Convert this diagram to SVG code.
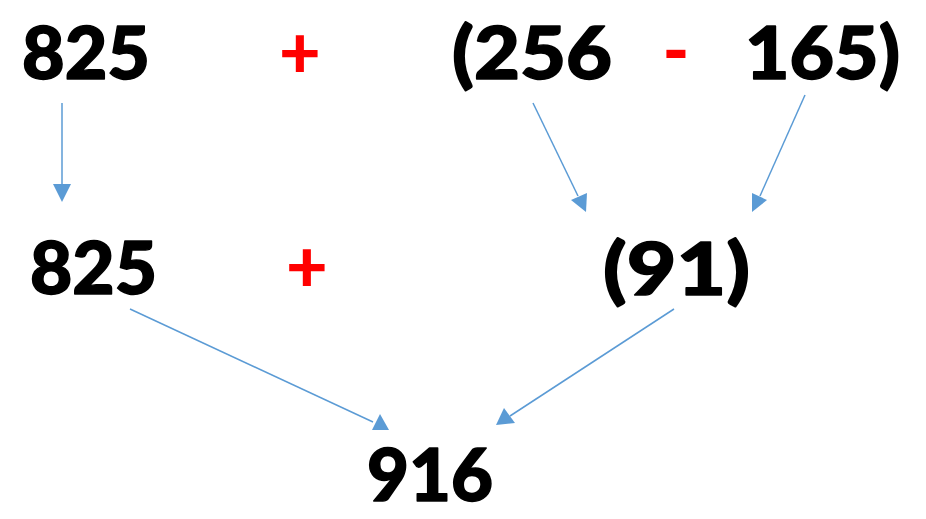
<svg xmlns="http://www.w3.org/2000/svg" width="926" height="519" viewBox="0 0 926 519">
<style>
.n{font-family:Lato,"DejaVu Sans",sans-serif;font-weight:900;font-size:72px;fill:#000;stroke:#000;stroke-width:1.5;stroke-linejoin:round}
.op{font-family:Lato,"DejaVu Sans",sans-serif;font-weight:900;font-size:72px;fill:#FF0000;text-anchor:middle}
.c{stroke:#5B9BD5;stroke-width:1.5;fill:none}
.h{fill:#5B9BD5}
</style>
<rect width="926" height="519" fill="#fff"/>
<g id="connectors">
<line class="c" x1="62" y1="103" x2="62" y2="186"/>
<path class="h" d="M53,184 L71,184 L62,202 Z"/>
<line class="c" x1="533" y1="103" x2="578" y2="196"/>
<path class="h" d="M571,200 L586,212 L587,193 Z"/>
<line class="c" x1="805" y1="95" x2="760" y2="196"/>
<path class="h" d="M752,193 L752,212 L767,200 Z"/>
<line class="c" x1="130" y1="309" x2="373" y2="422"/>
<path class="h" d="M380,414 L389,430 L372,430 Z"/>
<line class="c" x1="674" y1="309" x2="510" y2="416"/>
<path class="h" d="M504,408 L496,425 L515,423 Z"/>
</g>
<g id="top-825"><text class="n" x="22" y="79" textLength="128" lengthAdjust="spacingAndGlyphs">825</text></g>
<g id="top-plus"><text class="op" x="300" y="78">+</text></g>
<g id="top-256"><text class="n" x="452" y="79" textLength="160" lengthAdjust="spacingAndGlyphs">(256</text></g>
<g id="top-minus"><text class="op" x="676" y="76">-</text></g>
<g id="top-165"><text class="n" x="745" y="79" textLength="155" lengthAdjust="spacingAndGlyphs">165)</text></g>
<g id="mid-825"><text class="n" x="30" y="294" textLength="127" lengthAdjust="spacingAndGlyphs">825</text></g>
<g id="mid-plus"><text class="op" x="307" y="292">+</text></g>
<g id="mid-91"><text class="n" x="603" y="295" textLength="147" lengthAdjust="spacingAndGlyphs">(91)</text></g>
<g id="result-916"><text class="n" x="367" y="501" textLength="126" lengthAdjust="spacingAndGlyphs">916</text></g>
</svg>
